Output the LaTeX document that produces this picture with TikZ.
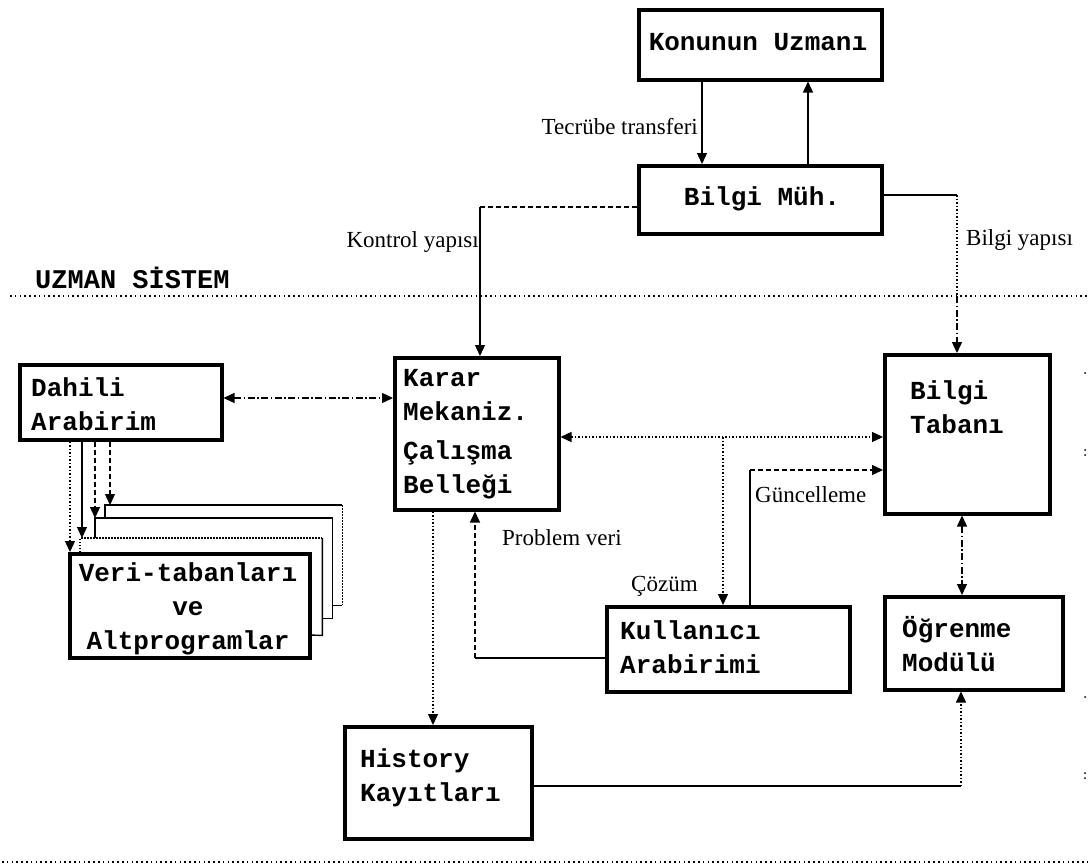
\documentclass[tikz,border=0pt]{standalone}
\usepackage{fontspec}
\usetikzlibrary{arrows.meta}
\newfontfamily\boxfont{Liberation Mono}
\newfontfamily\lblfont{Liberation Serif}

\begin{document}
\begin{tikzpicture}[x=1pt,y=-1pt,
  box/.style={draw, line width=3.5pt, inner sep=0pt, anchor=north west},
  boxtxt/.style={font=\boxfont\bfseries\fontsize{26}{34}\selectfont, inner sep=0pt, align=left},
  lbl/.style={font=\lblfont\fontsize{23}{25}\selectfont, inner sep=0pt},
  conn/.style={line width=1.3pt, >={Triangle[length=11pt,width=10pt]}},
  dotline/.style={conn, dash pattern=on 1.5pt off 2pt},
  dashline/.style={conn, dash pattern=on 5pt off 3pt},
  dashdot/.style={conn, dash pattern=on 7pt off 2.5pt on 1.5pt off 2.5pt},
  layer/.style={line width=1.4pt},
  sep/.style={line width=1.6pt, dash pattern=on 1.6pt off 3.2pt}
]
\useasboundingbox (0,0) rectangle (1088,868);

% ---------- boxes ----------
\node[box, minimum width=243pt, minimum height=70pt] (konu) at (637,8) {};
\node[boxtxt, anchor=center] (konu-t) at (758,42) {Konunun Uzmanı};

\node[box, minimum width=243pt, minimum height=68pt] (bm) at (637,164) {};
\node[boxtxt, anchor=center] (bm-t) at (762,199) {Bilgi Müh.};

\node[box, minimum width=202pt, minimum height=75pt] (dahili) at (18,363) {};
\node[boxtxt, anchor=north west] (dahili-t) at (31,377) {Dahili\\Arabirim};

\node[box, minimum width=164pt, minimum height=152pt] (karar) at (393,356) {};
\node[boxtxt, anchor=north west] (karar-t) at (403,369) {Karar\\Mekaniz.\\[5pt]Çalışma\\Belleği};

\node[box, minimum width=165pt, minimum height=159pt] (btab) at (883,353) {};
\node[boxtxt, anchor=north west] (btab-t) at (910,380) {Bilgi\\Tabanı};

\node[box, minimum width=243pt, minimum height=85pt] (kull) at (605,605) {};
\node[boxtxt, anchor=north west] (kull-t) at (620,620) {Kullanıcı\\Arabirimi};

\node[box, minimum width=178pt, minimum height=93pt] (ogr) at (883,595) {};
\node[boxtxt, anchor=north west] (ogr-t) at (902,616) {Öğrenme\\Modülü};

\node[box, minimum width=187pt, minimum height=112pt] (hist) at (343,725) {};
\node[boxtxt, anchor=north west] (hist-t) at (360,748) {History\\Kayıtları};

% ---------- stacked data bases ----------
\path node[anchor=north west, minimum width=237pt, minimum height=100pt, inner sep=0pt] (l3) at (105,505) {}
      node[anchor=north west, minimum width=237pt, minimum height=100pt, inner sep=0pt] (l2) at (95,518) {}
      node[anchor=north west, minimum width=242pt, minimum height=97pt, inner sep=0pt] (l1) at (80,538) {};
\draw[layer] (l3.west |- l2.north) -- (l3.north west) -- (l3.north east);
\draw[layer, dash pattern=on 1.5pt off 1.5pt] (l3.north east) -- (l3.south east);
\draw[layer] (l3.south east) -- (l2.east |- l3.south);
\draw[layer] (l2.west |- l1.north) -- (l2.north west) -- (l2.north east) -- (l2.south east) -- (l1.east |- l2.south);
\draw[layer, dash pattern=on 1.5pt off 1.5pt] (l1.west |- 0,552) -- (l1.north west) -- (l1.north east);
\draw[layer] (l1.north east) -- (l1.south east) -- (308,635);
\node[box, minimum width=240pt, minimum height=104pt, fill=white] (veri) at (68,552) {};
\node[boxtxt, align=center, anchor=north, font=\boxfont\bfseries\fontsize{26}{34}\selectfont] (veri-t) at (188,562) {Veri-tabanları\\ve\\Altprogramlar};

% ---------- labels ----------
\node[boxtxt, anchor=west, font=\boxfont\bfseries\fontsize{27}{30}\selectfont] (uzman) at (35,278) {UZMAN SİSTEM};
\node[lbl, anchor=east] (l-tecr) at (698,127) {Tecrübe transferi};
\node[lbl, anchor=east] (l-kont) at (479,242) {Kontrol yapısı};
\node[lbl, anchor=west] (l-bilg) at (966,240) {Bilgi yapısı};
\node[lbl, anchor=west] (l-prob) at (502,538) {Problem veri};
\node[lbl, anchor=west] (l-coz) at (631,586) {Çözüm};
\node[lbl, anchor=west] (l-gunc) at (755,495) {Güncelleme};

% ---------- separators ----------
\coordinate (s1a) at (10,296);
\coordinate (s1b) at (1088,296);
\coordinate (s2a) at (2,862);
\coordinate (s2b) at (1088,862);
\draw[sep] (s1a) -- (s1b);
\draw[sep] (s2a) -- (s2b);

% ---------- connectors ----------
\coordinate (tx) at (702,0);
\coordinate (ux) at (808,0);
\draw[conn,->] (konu.south -| tx) -- (bm.north -| tx);
\draw[conn,->] (bm.north -| ux) -- (konu.south -| ux);

% control structure
\coordinate (kc) at (480,207);
\draw[dashline] (bm.west |- kc) -- (kc);
\draw[conn,->] (kc) -- (karar.north -| kc);

% knowledge structure
\coordinate (bc) at (957,195);
\coordinate (bs) at (957,296);
\draw[conn] (bm.east |- bc) -- (bc);
\draw[dotline] (bc) -- (bs);
\draw[dashdot,->] (bs) -- (btab.north -| bs);

% internal interface <-> decision mechanism
\coordinate (dk) at (0,398);
\draw[dashdot,<->] (dahili.east |- dk) -- (karar.west |- dk);

% decision mechanism <-> knowledge base, and solution to the user interface
\coordinate (kb) at (0,437);
\coordinate (cz) at (723,437);
\draw[dotline,<->] (karar.east |- kb) -- (btab.west |- kb);
\draw[dotline,->] (cz) -- (kull.north -| cz);

% update
\coordinate (gx) at (750,470);
\draw[conn] (kull.north -| gx) -- (gx);
\draw[dashline,->] (gx) -- (btab.west |- gx);

% problem data
\coordinate (px) at (475,658);
\draw[conn] (kull.west |- px) -- (px);
\draw[dashline,->] (px) -- (karar.south -| px);

% history
\coordinate (hx) at (433,0);
\draw[dotline,->] (karar.south -| hx) -- (hist.north -| hx);
\coordinate (hc) at (961,786);
\draw[conn] (hist.east |- hc) -- (hc);
\draw[dotline,->] (hc) -- (ogr.south -| hc);

% knowledge base <-> learning module
\coordinate (ox) at (962,0);
\draw[dashdot,<->] (btab.south -| ox) -- (ogr.north -| ox);

% internal interface to the data bases
\coordinate (d1) at (70,0);
\coordinate (d2) at (82,0);
\coordinate (d3) at (95,0);
\coordinate (d4) at (110,0);
\draw[dotline,->] (dahili.south -| d1) -- (veri.north -| d1);
\draw[conn,->] (dahili.south -| d2) -- (l1.north -| d2);
\draw[dashline,->] (dahili.south -| d3) -- (l2.north -| d3);
\draw[dashline,->] (dahili.south -| d4) -- (l3.north -| d4);

% small marks at the right border
\foreach \yy in {373,450,455,697,773,778}
  \fill (1085,\yy) circle (1pt);
\end{tikzpicture}
\end{document}
